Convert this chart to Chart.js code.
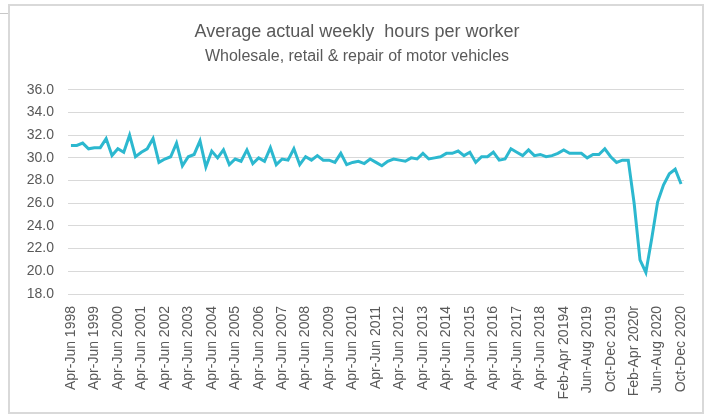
<!DOCTYPE html>
<html>
<head>
<meta charset="utf-8">
<script src="https://cdn.jsdelivr.net/npm/chart.js@4"></script>
<style>
    body { margin: 0; background: #fff; }
    #wrap { position: relative; width: 708px; height: 416px; }
    #frame { position: absolute; left: 8px; top: 4px; width: 692px; height: 406px; border: 2px solid #d9d9d9; }
    #tab { position: absolute; left: 0; top: 13px; width: 8px; height: 1px; background: #c8c8c8; }
    canvas { position: absolute; left: 0; top: 0; }
</style>
</head>
<body>
<div id="wrap">
    <div id="frame"></div>
    <div id="tab"></div>
    <canvas id="hoursChart" width="708" height="416"></canvas>
</div>
<script>
// Average actual weekly hours, wholesale/retail/motor trade
// Quarterly Apr-Jun 1998 .. Jan-Mar 2019, then rolling 3-month Feb-Apr 2019 .. Oct-Dec 2020
const hours = [
    31.1, 31.1, 31.3, 30.8, 30.9, 30.9, 31.7, 30.2, 30.8, 30.5,
    32.0, 30.1, 30.5, 30.8, 31.7, 29.6, 29.9, 30.1, 31.3, 29.3,
    30.1, 30.3, 31.5, 29.2, 30.6, 30.0, 30.7, 29.4, 29.9, 29.7,
    30.7, 29.5, 30.0, 29.7, 30.9, 29.4, 29.9, 29.8, 30.8, 29.4,
    30.1, 29.8, 30.2, 29.8, 29.8, 29.6, 30.4, 29.4, 29.6, 29.7,
    29.5, 29.9, 29.6, 29.3, 29.7, 29.9, 29.8, 29.7, 30.0, 29.9,
    30.4, 29.9, 30.0, 30.1, 30.4, 30.4, 30.6, 30.2, 30.5, 29.6,
    30.1, 30.1, 30.5, 29.8, 29.9, 30.8, 30.5, 30.2, 30.7, 30.2,
    30.3, 30.1, 30.2, 30.4, 30.7, 30.4, 30.4, 30.4, 30.0, 30.3,
    30.3, 30.8, 30.1, 29.6, 29.8, 29.8, 26.0, 21.0, 19.9, 22.9,
    26.1, 27.6, 28.6, 29.0, 27.7
];

const quarterNames = ['Apr-Jun', 'Jul-Sep', 'Oct-Dec', 'Jan-Mar'];
const rollingNames = ['Feb-Apr', 'Mar-May', 'Apr-Jun', 'May-Jul', 'Jun-Aug', 'Jul-Sep',
    'Aug-Oct', 'Sep-Nov', 'Oct-Dec', 'Nov-Jan', 'Dec-Feb', 'Jan-Mar'];

// only every 4th period is labelled on the axis
const tickLabels = [
    'Apr-Jun 1998', 'Apr-Jun 1999', 'Apr-Jun 2000', 'Apr-Jun 2001', 'Apr-Jun 2002',
    'Apr-Jun 2003', 'Apr-Jun 2004', 'Apr-Jun 2005', 'Apr-Jun 2006', 'Apr-Jun 2007',
    'Apr-Jun 2008', 'Apr-Jun 2009', 'Apr-Jun 2010', 'Apr-Jun 2011', 'Apr-Jun 2012',
    'Apr-Jun 2013', 'Apr-Jun 2014', 'Apr-Jun 2015', 'Apr-Jun 2016', 'Apr-Jun 2017',
    'Apr-Jun 2018', 'Feb-Apr 20194', 'Jun-Aug 2019', 'Oct-Dec 2019', 'Feb-Apr 2020r',
    'Jun-Aug 2020', 'Oct-Dec 2020'
];
const labelEvery = 4;

// Build the period names
const periods = [];
for (let y = 1998; y <= 2018; y++) {
    quarterNames.forEach((q, i) => periods.push(q + ' ' + (i === 3 ? y + 1 : y)));
}
for (let m = 0; m < 21; m++) {
    const year = m < 9 ? 2019 : 2020;
    periods.push(rollingNames[m % 12] + ' ' + year);
}

const textColor = '#595959';
const fontFamily = '"Liberation Sans", Arial, sans-serif';

new Chart(document.getElementById('hoursChart').getContext('2d'), {
    type: 'line',
    data: {
        labels: periods,
        datasets: [{
            data: hours,
            borderColor: '#2cb8cf',
            borderWidth: 3,
            pointRadius: 0,
            tension: 0,
            yAxisID: 'y'
        }]
    },
    options: {
        responsive: false,
        animation: false,
        devicePixelRatio: 1,
        layout: {
            padding: { left: 10, right: 4, top: 9, bottom: 4 }
        },
        plugins: {
            legend: { display: false },
            tooltip: { enabled: false },
            title: {
                display: true,
                text: 'Average actual weekly  hours per worker',
                color: textColor,
                font: { family: fontFamily, size: 18, weight: 'normal' },
                padding: { top: 12, bottom: 4 }
            },
            subtitle: {
                display: true,
                text: 'Wholesale, retail & repair of motor vehicles',
                color: textColor,
                font: { family: fontFamily, size: 16, weight: 'normal' },
                padding: { top: 0, bottom: 24 }
            }
        },
        scales: {
            x: {
                offset: true,
                grid: { display: false },
                border: { display: false },
                ticks: {
                    autoSkip: false,
                    maxRotation: 90,
                    minRotation: 90,
                    padding: 4,
                    color: textColor,
                    font: { family: fontFamily, size: 14 },
                    callback: (value, index) => index % labelEvery === 0 ? tickLabels[index / labelEvery] : ''
                },
                afterFit: scale => { scale.height = 118; }
            },
            y: {
                min: 18,
                max: 36,
                grid: { color: '#d9d9d9', drawTicks: false },
                border: { display: false },
                ticks: {
                    stepSize: 2,
                    padding: 14,
                    color: textColor,
                    font: { family: fontFamily, size: 14 },
                    callback: value => value.toFixed(1)
                },
                afterFit: scale => { scale.width = 58; }
            },
            // empty right margin so the title centres like the original
            yRight: {
                position: 'right',
                grid: { display: false },
                border: { display: false },
                ticks: { display: false },
                afterFit: scale => { scale.width = 20; }
            }
        }
    }
});
</script>
</body>
</html>
